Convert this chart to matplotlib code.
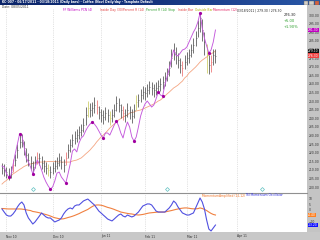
import numpy as np
import matplotlib
matplotlib.use('Agg')
import matplotlib.pyplot as plt
from matplotlib.patches import Rectangle
from matplotlib.colors import LinearSegmentedColormap

# month labels and the bar index of the first session in each month
months = ['Nov 10', 'Dec 10', 'Jan 11', 'Feb 11', 'Mar 11', 'Apr 11']
month_start = [2, 23, 45, 65, 84, 107]

# daily bars (coffee, cents/lb)
highs = [214.0, 213.2, 211.5, 210.8, 212.0, 216.4, 219.0, 225.0, 231.5, 230.8,
         227.0, 222.5, 219.6, 217.8, 215.2, 218.2, 220.5, 219.8, 218.0, 215.5,
         214.6, 213.5, 212.4, 214.8, 215.5, 217.6, 219.8, 218.0, 216.5, 220.4,
         225.2, 228.0, 231.0, 232.6, 234.0, 235.5, 236.8, 240.4, 246.5, 250.2,
         249.0, 249.5, 252.4, 250.8, 247.2, 245.6, 244.5, 246.8, 245.5, 244.0,
         245.4, 248.5, 252.8, 251.6, 248.5, 246.9, 245.4, 248.6, 247.2, 245.1,
         248.4, 253.6, 254.2, 257.0, 259.0, 258.2, 260.0, 261.6, 261.2, 260.0,
         261.0, 262.0, 263.2, 264.6, 267.0, 269.4, 273.5, 280.2, 283.6, 281.2,
         278.0, 275.2, 273.4, 276.8, 278.6, 280.5, 283.4, 286.4, 291.0, 297.2,
         301.7, 297.5, 290.0, 283.4, 276.5, 276.8, 280.0, 280.2]
lows = [207.8, 206.6, 205.5, 203.8, 205.2, 208.6, 212.0, 216.8, 222.5, 223.2,
        218.4, 214.8, 212.0, 210.6, 208.0, 210.8, 213.2, 213.0, 210.2, 208.6,
        207.5, 206.4, 205.2, 207.5, 208.6, 210.4, 212.2, 210.6, 209.0, 212.6,
        217.0, 220.5, 223.4, 224.8, 226.4, 228.2, 229.4, 232.0, 236.2, 240.8,
        240.5, 241.2, 243.0, 242.4, 239.6, 237.8, 236.4, 238.8, 237.6, 236.0,
        237.8, 240.6, 244.2, 243.4, 240.4, 238.8, 237.6, 240.6, 239.4, 237.0,
        240.2, 244.8, 246.4, 249.2, 251.0, 250.6, 252.2, 254.0, 253.6, 252.4,
        253.6, 254.8, 255.8, 257.0, 259.0, 261.4, 264.6, 269.6, 273.6, 271.8,
        269.4, 266.4, 264.8, 268.4, 270.8, 272.4, 275.4, 278.2, 282.0, 287.4,
        290.4, 285.0, 276.6, 266.4, 265.8, 267.0, 271.0, 272.2]
closes = [211.0, 209.9, 208.7, 207.0, 208.7, 212.8, 215.7, 221.5, 226.2, 227.3,
          222.7, 218.6, 215.7, 214.0, 211.6, 214.5, 216.9, 216.9, 214.0, 212.2,
          211.0, 209.9, 208.7, 211.0, 212.2, 214.0, 215.7, 214.5, 212.8, 216.9,
          221.5, 224.4, 227.3, 228.5, 230.2, 232.0, 233.1, 236.0, 241.9, 245.9,
          244.8, 245.9, 247.7, 246.5, 243.6, 241.9, 240.7, 243.0, 241.9, 240.1,
          241.9, 244.8, 248.8, 247.7, 244.8, 243.0, 241.9, 244.8, 243.6, 241.3,
          244.8, 249.4, 250.6, 253.5, 255.2, 254.7, 256.4, 258.1, 257.6, 256.4,
          257.6, 258.7, 259.9, 261.0, 263.4, 265.7, 269.2, 275.0, 278.5, 276.7,
          273.8, 270.9, 269.2, 272.7, 275.0, 276.7, 279.7, 282.6, 286.6, 292.4,
          298.3, 291.3, 284.3, 276.7, 270.9, 272.7, 276.7, 276.3]
red_bars = [5, 16, 29, 43, 55, 82, 95]
yellow_bars = [21, 39, 49, 61, 93]

# FF Williams PCN overlay (purple)
pcn = [212.2, 211.6, 208.1, 205.8, 206.4, 212.8, 219.2, 225.0, 230.8, 230.2,
       223.8, 216.9, 214.5, 211.6, 207.6, 211.0, 215.7, 213.4, 209.9, 205.8,
       202.9, 200.6, 198.8, 200.0, 203.5, 208.1, 208.7, 205.8, 204.1, 202.3,
       207.6, 213.4, 220.9, 222.1, 220.4, 225.6, 228.5, 229.7, 232.6, 234.9,
       236.6, 237.8, 236.6, 234.9, 232.6, 230.2, 228.5, 231.4, 231.4, 230.2,
       233.1, 236.0, 238.4, 235.5, 231.4, 228.5, 233.7, 237.8, 234.9, 229.1,
       226.7, 229.1, 234.9, 241.3, 245.3, 248.3, 250.0, 248.3, 246.5, 247.7,
       251.2, 255.2, 253.5, 252.9, 259.3, 264.0, 268.6, 274.4, 279.7, 276.7,
       276.2, 277.9, 279.7, 280.2, 281.4, 284.3, 287.2, 290.1, 292.4, 295.9,
       301.2, 292.4, 286.6, 282.0, 277.9, 279.7, 284.3, 291.3]
pcn_pivots = [3, 8, 14, 22, 29, 41, 46, 52, 60, 71, 73, 90, 94]

# moving average (pink)
ma = [201.7, 202.9, 203.8, 204.9, 206.4, 207.6, 208.4, 209.3, 210.2, 211.0,
      211.9, 212.5, 213.1, 213.4, 213.7, 214.0, 214.2, 214.5, 214.5, 214.6,
      214.7, 214.8, 214.8, 214.8, 214.8, 214.7, 214.6, 214.5, 214.5, 214.5,
      214.5, 214.5, 215.1, 215.4, 215.7, 216.3, 216.9, 218.0, 219.2, 220.3,
      221.5, 223.0, 224.4, 226.2, 227.6, 229.1, 230.2, 231.4, 232.8, 234.3,
      235.5, 236.6, 237.8, 239.0, 239.8, 240.7, 241.3, 241.9, 243.0, 243.3,
      243.6, 244.2, 244.5, 244.8, 245.3, 245.9, 246.5, 247.1, 247.7, 248.3,
      249.1, 250.0, 250.6, 251.7, 252.9, 254.1, 255.2, 256.4, 257.6, 258.4,
      259.3, 260.5, 261.6, 263.4, 264.5, 266.3, 267.4, 268.6, 269.8, 271.2,
      272.7, 273.8, 274.7, 275.6, 276.7, 277.3, 278.2, 279.1]

# lower panel oscillators
tsi = [0.9, -1.8, -4.4, -5.3, -5.3, -3.5, -0.9, 2.6, 5.3, 7.0,
       4.4, -2.6, -7.0, -9.6, -12.3, -10.5, -7.9, -5.3, -2.6, -4.4,
       -6.1, -7.0, -7.0, -8.8, -10.5, -9.6, -8.8, -7.0, -3.5, -0.9,
       0.9, 1.8, 0.9, 3.5, 4.4, 4.4, 6.1, 7.9, 8.8, 9.6,
       7.9, 6.1, 4.4, 1.8, -0.9, -2.6, -4.4, -6.1, -7.9, -8.8,
       -9.6, -7.9, -6.1, -4.4, -3.5, -5.3, -6.1, -4.4, -5.3, -6.1,
       -5.3, -3.5, -1.8, 0.9, 3.5, 4.4, 5.3, 5.3, 4.4, 1.8,
       -0.9, -1.8, -1.8, -1.8, -1.8, 0.0, 1.8, 4.4, 7.9, 6.1,
       2.6, 0.0, -2.6, -3.5, -4.4, -4.4, -3.5, -2.6, 1.8, 6.1,
       10.5, 7.0, 0.9, -8.8, -16.7, -18.4, -15.8, -13.2]
mom_amp = [1.3, 1.2, 1.0, 0.9, 0.9, 0.9, 0.9, 0.9, 0.9, 0.8,
           0.5, 0.2, -0.2, -0.5, -1.3, -1.6, -2.0, -2.4, -3.0, -3.5,
           -4.0, -4.6, -5.3, -6.1, -6.8, -7.2, -7.7, -7.9, -7.7, -7.2,
           -6.6, -6.1, -5.5, -4.8, -4.0, -3.2, -2.2, -1.3, -0.4, 0.5,
           1.8, 3.0, 4.0, 4.4, 4.4, 4.2, 3.7, 3.0, 2.3, 1.8,
           1.2, 0.5, -0.3, -1.0, -1.8, -2.2, -2.6, -3.0, -3.3, -3.5,
           -3.9, -4.2, -4.4, -4.2, -3.9, -3.5, -3.0, -2.6, -2.4, -2.2,
           -2.0, -1.8, -1.8, -1.8, -1.8, -1.3, -0.9, -0.5, 0.0, 0.5,
           0.9, 1.3, 1.6, 1.8, 1.8, 1.5, 1.2, 1.0, 1.0, 1.2,
           1.8, 1.3, 0.5, -0.5, -1.8, -3.0, -3.9, -4.4]

signal_bars = [14, 75, 118]

W, H = 320.0, 240.0


def box(x0, y0, x1, y1):
    # pixel box (from top-left) -> figure fraction rect
    return [x0 / W, 1 - y1 / H, (x1 - x0) / W, (y1 - y0) / H]


fig = plt.figure(figsize=(3.2, 2.4), dpi=100)
fig.patch.set_facecolor('white')
fs = 2.2

# grey right strip and bottom date band
fig.patches.append(Rectangle((307 / W, 0), 13 / W, 1 - 5 / H, transform=fig.transFigure,
                             facecolor='#c4c4c4', edgecolor='none', zorder=-2))
fig.patches.append(Rectangle((0, 0), 1, 8 / H, transform=fig.transFigure,
                             facecolor='#c8c8c8', edgecolor='none', zorder=-2))

# title bar
ax_t = fig.add_axes(box(0, 0, 320, 5))
grad = LinearSegmentedColormap.from_list('tb', ['#0a246a', '#16357f', '#2a58a8'])
ax_t.imshow(np.linspace(0, 1, 200).reshape(1, -1), cmap=grad, aspect='auto', extent=(0, 320, 0, 5))
ax_t.set_xlim(0, 320)
ax_t.set_ylim(0, 5)
ax_t.axis('off')
ax_t.text(2, 2.5, 'KC-007 - 06/17/2011 - 03/18/2011 (Daily bars) - Coffee (Nov) Daily/day - Template Default',
          color='white', fontsize=fs, va='center', ha='left', fontweight='bold')
for k, c in enumerate(['#d4d0c8', '#d4d0c8', '#d86040']):
    ax_t.add_patch(Rectangle((303.5 + 5.5 * k, 0.5), 4.5, 4, facecolor=c, edgecolor='#606060', lw=0.3))
fig.text(2 / W, 1 - 6.5 / H, 'Date: 08/05/2011', fontsize=fs, color='#303030', va='center')

# ---- price panel
idx = np.arange(len(closes))
ax = fig.add_axes(box(0, 8, 307, 192))
ax.set_xlim(-0.9, 138.6)
ax.set_ylim(197.1, 304.1)
for s in ax.spines.values():
    s.set_visible(False)
ax.set_xticks(month_start)
ax.tick_params(axis='x', length=0, labelbottom=False)
ax.grid(axis='x', linestyle=':', color='#c8c8c8', lw=0.5)
ax.yaxis.tick_right()
ax.set_yticks(np.arange(200, 301, 5))
ax.set_yticklabels(['%.2f' % v for v in np.arange(200, 301, 5)])
ax.tick_params(axis='y', length=0, pad=1.2, labelsize=fs, labelcolor='#303030')

colors = []
for i in idx:
    if i in red_bars:
        colors.append('#ee7070')
    elif i in yellow_bars:
        colors.append('#cccc60')
    else:
        colors.append('#505050')
ax.plot(idx, ma, color='#f4a582', lw=0.6, zorder=2)
ax.vlines(idx, lows, highs, colors=colors, lw=0.55, zorder=3)
ax.hlines(closes, idx, idx + 0.45, colors=colors, lw=0.4, zorder=3)
ax.plot(idx, pcn, color='#c458dc', lw=0.65, zorder=4)
ax.plot(idx[pcn_pivots], np.array(pcn)[pcn_pivots], 'o', ms=1.3, color='#a000a0', zorder=5)
ax.plot(signal_bars, [198.8] * len(signal_bars), ls='none', marker='D', ms=2.0,
        mfc='none', mec='#60c0c0', mew=0.5)

# last-value tags on the price scale
ytr = ax.get_yaxis_transform()
for val, txt, col in [(pcn[-1], '%.2f' % pcn[-1], '#c000c0'),
                      (ma[-1], '%.2f' % ma[-1], '#101010'),
                      (closes[-1], '%.2f' % closes[-1], '#f04040')]:
    ax.text(1.003, val, txt, transform=ytr, fontsize=fs, color='white', va='center', ha='left',
            bbox=dict(boxstyle='square,pad=0.12', fc=col, ec='none'), clip_on=False)

# legend line
legend = [('FF Williams PCN (4)', '#c000c0', 63), ('Inside Day (30)', '#e04040', 100),
          ('Percent R (14)', '#e04040', 123), ('Percent R (14) Stop', '#30a030', 146),
          ('Inside Bar', '#e04040', 178), ('Outside Bar', '#b0b000', 195),
          ('Momentum (12)', '#e02060', 213), ('03/18/2011 | 279.30 / 276.30', '#202020', 237)]
for txt, col, x in legend:
    fig.text(x / W, 1 - 10 / H, txt, fontsize=fs, color=col, va='center', ha='left')
fig.text(284 / W, 1 - 15 / H, '%.2f' % closes[-1], fontsize=fs + 0.4, color='#202020', va='center')
fig.text(284 / W, 1 - 21.5 / H, '+5.00', fontsize=fs + 0.4, color='#2a9d2a', va='center')
fig.text(284 / W, 1 - 27.5 / H, '+1.90%', fontsize=fs + 0.4, color='#2a9d2a', va='center')

# ---- oscillator panel
ax2 = fig.add_axes(box(0, 193, 307, 232))
ax2.set_xlim(-0.9, 138.6)
ax2.set_ylim(-19.3, 14.9)
for k, s in ax2.spines.items():
    s.set_visible(k == 'top')
ax2.spines['top'].set_color('#909090')
ax2.spines['top'].set_linewidth(0.8)
ax2.set_xticks(month_start)
ax2.set_xticklabels(months, ha='left')
ax2.tick_params(axis='x', length=0, pad=1.8, labelsize=fs, labelcolor='#303030')
ax2.grid(axis='x', linestyle=':', color='#c8c8c8', lw=0.5)
ax2.yaxis.tick_right()
ax2.set_yticks([10, 5, 0, -10])
ax2.tick_params(axis='y', length=0, pad=1.2, labelsize=fs, labelcolor='#303030')
ax2.plot(idx, mom_amp, color='#f08040', lw=0.8)
ax2.plot(idx, tsi, color='#5050e0', lw=0.8)
ytr2 = ax2.get_yaxis_transform()
for val, col in [(mom_amp[-1], '#ff8020'), (tsi[-1], '#1010ff')]:
    ax2.text(1.003, val, '%.2f' % val, transform=ytr2, fontsize=fs, color='white', va='center',
             ha='left', bbox=dict(boxstyle='square,pad=0.12', fc=col, ec='none'), clip_on=False)
fig.text(202 / W, 1 - 195.5 / H, 'MomentumAmplified (12,12)', fontsize=fs, color='#f07020', va='center')
fig.text(245 / W, 1 - 195.5 / H, 'TSI Momentum Oscillator', fontsize=fs, color='#3030e0', va='center')

fig.savefig('out.png', dpi=100)
